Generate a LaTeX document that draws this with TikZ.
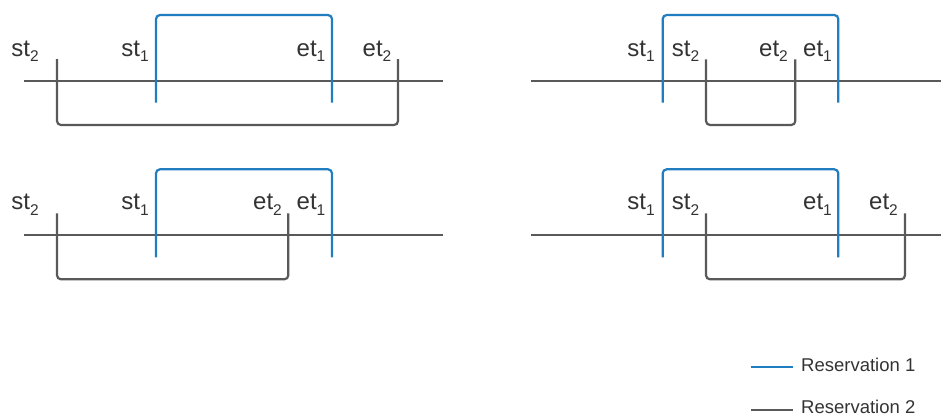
\documentclass[tikz,border=0pt]{standalone}
\usepackage{fontspec}
\setmainfont{Liberation Sans}
\definecolor{resone}{HTML}{1F7DC0}
\definecolor{restwo}{HTML}{595959}
\definecolor{labeltext}{HTML}{333333}
\newcommand{\tlabel}[2]{#1\raisebox{-0.24em}{\fontsize{15.5}{15.5}\selectfont #2}}
\tikzset{
  axisline/.style={draw=restwo, line width=2pt},
  resA/.style={draw=resone, line width=2.2pt, rounded corners=4pt},
  resB/.style={draw=restwo, line width=2.2pt, rounded corners=4pt},
  tlab/.style={anchor=base, inner sep=0pt, text=labeltext, font=\fontsize{24}{28}\selectfont},
  legtext/.style={anchor=base west, inner sep=0pt, text=labeltext, font=\fontsize{18.5}{22}\selectfont},
}
\begin{document}
\begin{tikzpicture}[x=1pt, y=-1pt]
\useasboundingbox (0,0) rectangle (941,416);

% ---- case 1: reservation 2 encloses reservation 1
\draw[axisline] (24,80.5) -- (443,80.5);
\draw[resA] (156,102.7) -- (156,15) -- (332,15) -- (332,102.7);
\draw[resB] (57,59) -- (57,125) -- (398,125) -- (398,59);
\node[tlab] (a-st2) at (25,56) {\tlabel{st}{2}};
\node[tlab] (a-st1) at (135,56) {\tlabel{st}{1}};
\node[tlab] (a-et1) at (311,56) {\tlabel{et}{1}};
\node[tlab] (a-et2) at (377,56) {\tlabel{et}{2}};

% ---- case 2: reservation 1 encloses reservation 2
\draw[axisline] (531,80.5) -- (941,80.5);
\draw[resA] (662.7,102.7) -- (662.7,15) -- (838.3,15) -- (838.3,102.7);
\draw[resB] (706,59.3) -- (706,125) -- (795.3,125) -- (795.3,59.3);
\node[tlab] (b-st1) at (641,56) {\tlabel{st}{1}};
\node[tlab] (b-st2) at (685.5,56) {\tlabel{st}{2}};
\node[tlab] (b-et2) at (773.5,56) {\tlabel{et}{2}};
\node[tlab] (b-et1) at (817.5,56) {\tlabel{et}{1}};

% ---- case 3: reservation 2 starts first, ends inside reservation 1
\draw[axisline] (24,235) -- (443,235);
\draw[resA] (156,257.3) -- (156,169.3) -- (332,169.3) -- (332,257.3);
\draw[resB] (57,213.3) -- (57,279.3) -- (288.3,279.3) -- (288.3,213.3);
\node[tlab] (c-st2) at (25,209.5) {\tlabel{st}{2}};
\node[tlab] (c-st1) at (135,209.5) {\tlabel{st}{1}};
\node[tlab] (c-et2) at (267.5,209.5) {\tlabel{et}{2}};
\node[tlab] (c-et1) at (311,209.5) {\tlabel{et}{1}};

% ---- case 4: reservation 2 starts inside reservation 1, ends after it
\draw[axisline] (531,235) -- (941,235);
\draw[resA] (662.7,257.3) -- (662.7,169.3) -- (838.3,169.3) -- (838.3,257.3);
\draw[resB] (706,213.3) -- (706,279.3) -- (905,279.3) -- (905,213.3);
\node[tlab] (d-st1) at (641,209.5) {\tlabel{st}{1}};
\node[tlab] (d-st2) at (685.5,209.5) {\tlabel{st}{2}};
\node[tlab] (d-et1) at (817.5,209.5) {\tlabel{et}{1}};
\node[tlab] (d-et2) at (883.5,209.5) {\tlabel{et}{2}};

% ---- legend
\coordinate (legA-l) at (750.7,367.3);
\coordinate (legA-r) at (793.3,367.3);
\coordinate (legB-l) at (750.7,410.2);
\coordinate (legB-r) at (793.3,410.2);
\draw[draw=resone, line width=2pt] (legA-l) -- (legA-r);
\draw[draw=restwo, line width=2pt] (legB-l) -- (legB-r);
\node[legtext] (legA) at (801,371.7) {Reservation 1};
\node[legtext] (legB) at (801,413.3) {Reservation 2};
\end{tikzpicture}
\end{document}
